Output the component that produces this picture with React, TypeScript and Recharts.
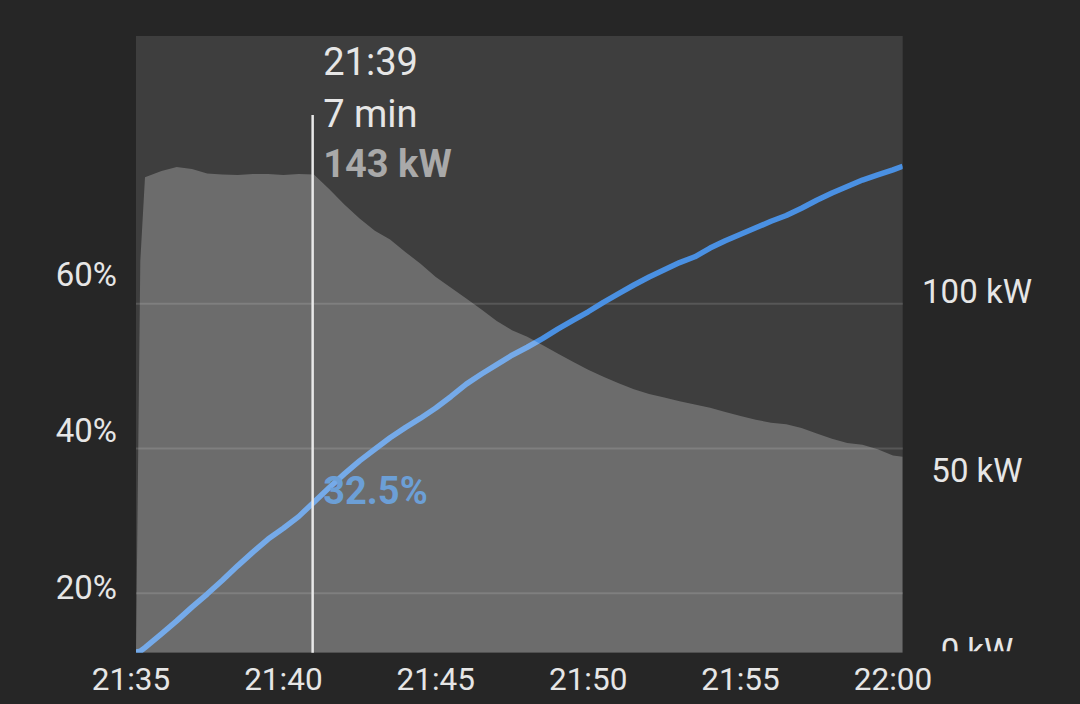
import React from 'react';
import {
  ComposedChart,
  Line,
  Area,
  XAxis,
  YAxis,
  CartesianGrid,
  ReferenceLine,
  ReferenceDot,
} from 'recharts';

// time in minutes after 21:35
const times = [
  0.164, 0.305, 0.459, 1.0, 1.5, 2.0, 2.5, 3.0, 3.5, 4.0, 4.5, 5.0, 5.5, 6.0, 6.5, 7.0, 7.5, 8.0,
  8.5, 9.0, 9.5, 10.0, 10.5, 11.0, 11.5, 12.0, 12.5, 13.0, 13.5, 14.0, 14.5, 15.0, 15.5, 16.0,
  16.5, 17.0, 17.5, 18.0, 18.5, 19.0, 19.5, 20.0, 20.5, 21.0, 21.5, 22.0, 22.5, 23.0, 23.5, 24.0,
  24.5, 25.0, 25.32,
];

// state of charge (%)
const soc = [
  11.9, 12.0, 12.5, 14.4, 16.2, 18.1, 19.9, 21.8, 23.8, 25.7, 27.5, 29.0, 30.6, 32.6, 34.6, 36.5,
  38.3, 39.9, 41.5, 42.9, 44.2, 45.6, 47.2, 48.9, 50.3, 51.6, 52.9, 54.0, 55.2, 56.5, 57.7, 58.9,
  60.2, 61.4, 62.6, 63.7, 64.7, 65.7, 66.5, 67.7, 68.7, 69.6, 70.5, 71.4, 72.2, 73.2, 74.3, 75.3,
  76.2, 77.1, 77.8, 78.5, 79.0,
];

// charging power (kW)
const power = [
  0, 117, 142, 143.9, 145.1, 144.5, 143.1, 142.8, 142.7, 143.0, 143.0, 142.7, 143.0, 142.8, 138.5,
  133.9, 129.7, 126.0, 123.4, 119.7, 116.2, 112.2, 109.0, 105.8, 102.5, 99.1, 96.3, 94.4, 91.9,
  89.4, 86.9, 84.5, 82.4, 80.5, 78.7, 77.3, 76.2, 75.1, 74.1, 73.2, 71.9, 70.7, 69.6, 68.7, 68.2,
  67.1, 65.5, 63.9, 62.6, 62.1, 60.8, 58.9, 58.5,
];

const timeTicks = [0, 5, 10, 15, 20, 25];
const timeLabels = ['21:35', '21:40', '21:45', '21:50', '21:55', '22:00'];
const socTicks = [20, 40, 60];
const kwTicks = [0, 50, 100];

// cursor readout
const CURSOR_T = 5.96;
const CURSOR_TOP_KW = 160.6;
const CURSOR_SOC = 32.5;
const cursorTime = '21:39';
const cursorRemain = '7 min';
const cursorPower = '143 kW';
const cursorSoc = '32.5%';

const data = times.map((t, i) => ({ t, soc: soc[i], kw: power[i] }));

const W = 1080;
const H = 704;
const PLOT_BOTTOM = 652.7;
const FONT = 'Roboto, "Noto Sans", sans-serif';
const TEXT = '#e6e6e6';

const KwTick = (props: any) => {
  const { x, y, payload, index } = props;
  const id = `kwclip-${index}`;
  return (
    <g>
      <defs>
        <clipPath id={id}>
          <rect x={x - 90} y={y - 40} width={180} height={PLOT_BOTTOM - 1.5 - (y - 40)} />
        </clipPath>
      </defs>
      <text
        x={x}
        y={y}
        dy="0.355em"
        textAnchor="middle"
        fill={TEXT}
        fontSize={33}
        fontFamily={FONT}
        clipPath={`url(#${id})`}
      >
        {`${payload.value} kW`}
      </text>
    </g>
  );
};

const CursorLabel = (props: any) => {
  const { viewBox } = props;
  const x = viewBox.x + 10.6;
  const top = viewBox.y;
  return (
    <g fontFamily={FONT} fontSize={38}>
      <text x={x} y={top - 40} fill={TEXT}>
        {cursorTime}
      </text>
      <text x={x} y={top + 11.7} fill={TEXT}>
        {cursorRemain}
      </text>
      <text x={x} y={top + 61.7} fill="#a9a9a9" fontWeight="bold">
        {cursorPower}
      </text>
    </g>
  );
};

const SocLabel = (props: any) => {
  const { viewBox } = props;
  return (
    <text
      x={viewBox.x + 10.6}
      y={viewBox.y + 1}
      fill="#6c9fd6"
      fontFamily={FONT}
      fontSize={38}
      fontWeight="bold"
    >
      {cursorSoc}
    </text>
  );
};

export default function App() {
  return (
    <div style={{ position: 'absolute', left: 0, top: 0, width: W, height: H, background: '#262626' }}>
      <ComposedChart width={W} height={H} data={data} margin={{ top: 36, right: 0, bottom: 0, left: 0 }}>
        <CartesianGrid
          yAxisId="soc"
          vertical={false}
          horizontalValues={socTicks}
          fill="#3e3e3e"
          fillOpacity={1}
          stroke="#575757"
          strokeWidth={2}
        />
        <XAxis
          dataKey="t"
          type="number"
          domain={['dataMin', 'dataMax']}
          allowDataOverflow
          ticks={timeTicks}
          interval={0}
          tickFormatter={(v: number) => timeLabels[timeTicks.indexOf(v)] ?? ''}
          height={51.3}
          axisLine={false}
          tickLine={false}
          tickSize={0}
          tickMargin={15}
          tick={{ fill: TEXT, fontSize: 31.5, fontFamily: FONT }}
        />
        <YAxis yAxisId="soc" domain={[11.8, 97]} ticks={socTicks} allowDataOverflow hide width={0} />
        <YAxis
          yAxisId="kw"
          orientation="right"
          domain={[0, 184.2]}
          allowDataOverflow
          hide
          width={0}
        />
        <YAxis
          yAxisId="socLabel"
          domain={[11.6, 90.5]}
          ticks={socTicks}
          allowDataOverflow
          width={136}
          axisLine={false}
          tickLine={false}
          tickSize={0}
          tickMargin={19}
          tickFormatter={(v: number) => `${v}%`}
          tick={{ fill: TEXT, fontSize: 33, fontFamily: FONT }}
        />
        <YAxis
          yAxisId="kwLabel"
          orientation="right"
          domain={[-0.75, 171]}
          ticks={kwTicks}
          allowDataOverflow
          width={177.3}
          axisLine={false}
          tickLine={false}
          tickSize={0}
          tickMargin={74.3}
          tick={<KwTick />}
        />
        <Line
          yAxisId="soc"
          type="linear"
          dataKey="soc"
          stroke="#4a90e2"
          strokeWidth={5.5}
          strokeLinejoin="round"
          dot={false}
          activeDot={false}
          isAnimationActive={false}
        />
        <Area
          yAxisId="kw"
          type="linear"
          dataKey="kw"
          stroke="none"
          fill="#ffffff"
          fillOpacity={0.24}
          baseValue={0}
          activeDot={false}
          isAnimationActive={false}
          zIndex={450}
        />
        <ReferenceLine
          yAxisId="kw"
          segment={[
            { x: CURSOR_T, y: 0 },
            { x: CURSOR_T, y: CURSOR_TOP_KW },
          ]}
          stroke="#e8e8e8"
          strokeWidth={2.5}
          label={<CursorLabel />}
          zIndex={600}
        />
        <ReferenceDot
          yAxisId="soc"
          x={CURSOR_T}
          y={CURSOR_SOC}
          r={0}
          fill="none"
          stroke="none"
          label={<SocLabel />}
          zIndex={600}
        />
      </ComposedChart>
    </div>
  );
}
